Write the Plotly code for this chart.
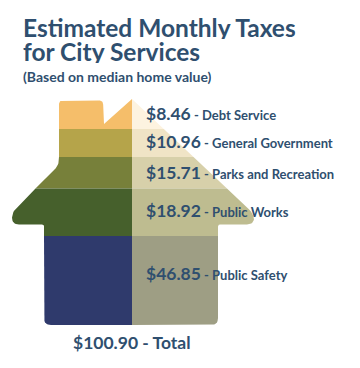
import numpy as np
import plotly.graph_objects as go

services = ["Debt Service", "General Government", "Parks and Recreation", "Public Works", "Public Safety"]
amounts = [8.46, 10.96, 15.71, 18.92, 46.85]
total = 100.90
left_colors = ["#F5BE6A", "#B5A44A", "#77803A", "#46602C", "#2F3A6C"]
right_colors = ["#FDF3E0", "#F0E4C6", "#D7D0AA", "#BEBC90", "#9E9E84"]
band_edges = [99, 129, 157, 188.5, 236, 325]
label_rows = [113.5, 141.5, 172.5, 210.5, 273.5]

# house silhouette (x, y, corner radius)
house_x = [132, 104, 103, 59, 59, 12, 12, 44, 44, 218, 218, 254, 254]
house_y = [99, 124, 100.5, 100.5, 165, 212, 224.5, 224.5, 325, 325, 224.5, 224.5, 214]
house_r = [0, 0, 4, 4, 6, 7, 7, 2, 7, 7, 2, 7, 7]

TEXT = "#2F4F6F"
FONT = "Lato"


def rounded(xs, ys, rs):
    pts = np.column_stack([xs, ys]).astype(float)
    out = []
    n = len(pts)
    for i in range(n):
        p, a, b = pts[i], pts[i - 1], pts[(i + 1) % n]
        r = rs[i]
        if r == 0:
            out.append(p)
            continue
        u = (a - p) / np.linalg.norm(a - p)
        v = (b - p) / np.linalg.norm(b - p)
        s, e = p + u * r, p + v * r
        for t in np.linspace(0, 1, 9):
            out.append((1 - t) ** 2 * s + 2 * t * (1 - t) * p + t ** 2 * e)
    return np.array(out)


def clip(poly, axis, value, keep_greater):
    out = []
    n = len(poly)
    for i in range(n):
        a, b = poly[i], poly[(i + 1) % n]
        ina = a[axis] >= value if keep_greater else a[axis] <= value
        inb = b[axis] >= value if keep_greater else b[axis] <= value
        if ina:
            out.append(a)
        if ina != inb:
            t = (value - a[axis]) / (b[axis] - a[axis])
            out.append(a + t * (b - a))
    return np.array(out)


outline = rounded(house_x, house_y, house_r)
mid_x = house_x[0]
fig = go.Figure()
for i, service in enumerate(services):
    band = clip(clip(outline, 1, band_edges[i], True), 1, band_edges[i + 1], False)
    for side, colors in ((False, left_colors), (True, right_colors)):
        part = clip(band, 0, mid_x, side)
        fig.add_trace(go.Scatter(
            x=np.append(part[:, 0], part[0, 0]), y=np.append(part[:, 1], part[0, 1]),
            mode="lines", fill="toself", fillcolor=colors[i], line=dict(width=0),
            hoverinfo="skip", showlegend=False, name=service))

annotations = []
for service, amount, row in zip(services, amounts, label_rows):
    annotations.append(dict(
        x=144, y=row, xref="x", yref="y", xanchor="left", yanchor="middle", showarrow=False,
        text=f"<b>${amount:.2f}</b><span style=\"font-size:13px\"><b> - {service}</b></span>",
        font=dict(family=FONT, size=17.5, color=TEXT)))
annotations.append(dict(
    x=132, y=342, xref="x", yref="y", xanchor="center", yanchor="middle", showarrow=False,
    text=f"<b>${total:.2f} - Total</b>", font=dict(family=FONT, size=17.5, color=TEXT)))
for txt, row, size, box in (("Estimated Monthly Taxes", 27, 24.5, 23), ("for City Services", 51.5, 24.5, 23),
                            ("(Based on median home value)", 75.5, 14, 18)):
    annotations.append(dict(
        x=21, y=row, xref="x", yref="y", xanchor="left", yanchor="middle", showarrow=False,
        height=box, text=f"<b>{txt}</b>", font=dict(family=FONT, size=size, color=TEXT)))

fig.update_layout(
    width=360, height=368, margin=dict(l=0, r=0, t=0, b=0),
    paper_bgcolor="white", plot_bgcolor="white",
    xaxis=dict(range=[0, 360], visible=False, fixedrange=True),
    yaxis=dict(range=[368, 0], visible=False, fixedrange=True),
    annotations=annotations,
)
fig.write_html("out.html", config=dict(displayModeBar=False),
               post_script="document.body.style.margin='0';document.body.style.overflow='hidden';")
